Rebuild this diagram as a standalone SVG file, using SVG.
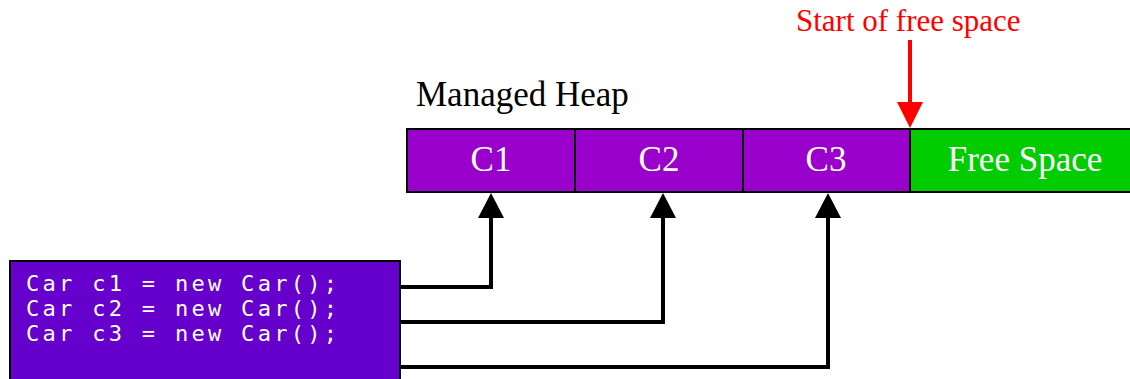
<svg xmlns="http://www.w3.org/2000/svg" width="1130" height="379" viewBox="0 0 1130 379">
  <style>
    .cell { stroke: #000; stroke-width: 2; }
    .obj { fill: #9900CC; }
    .free { fill: #00CC00; }
    .label { font-family: "Liberation Serif", "Times New Roman", serif; font-size: 35px; fill: #fff; text-anchor: middle; }
    .title { font-family: "Liberation Serif", "Times New Roman", serif; font-size: 35px; fill: #000; }
    .note { font-family: "Liberation Serif", "Times New Roman", serif; font-size: 31px; fill: #FF0000; }
    .code { font-family: "DejaVu Sans Mono", "Liberation Mono", monospace; font-size: 22px; fill: #fff; letter-spacing: 3.3px; }
    .wire { fill: none; stroke: #000; stroke-width: 4; }
  </style>

  <rect width="1130" height="379" fill="#fff"/>

  <text class="title" x="416" y="106">Managed Heap</text>

  <g id="c1">
    <rect class="cell obj" x="407" y="129" width="168" height="63"/>
    <text class="label" x="491" y="171">C1</text>
  </g>
  <g id="c2">
    <rect class="cell obj" x="575" y="129" width="168" height="63"/>
    <text class="label" x="659" y="171">C2</text>
  </g>
  <g id="c3">
    <rect class="cell obj" x="743" y="129" width="167" height="63"/>
    <text class="label" x="826" y="171">C3</text>
  </g>
  <g id="free-space">
    <rect class="cell free" x="910" y="129" width="230" height="63"/>
    <text class="label" x="1025" y="171">Free Space</text>
  </g>

  <g id="code">
    <rect x="10" y="261" width="390" height="130" fill="#6600CC" stroke="#000" stroke-width="2"/>
    <text class="code" x="26" y="291">Car c1 = new Car();</text>
    <text class="code" x="26" y="316">Car c2 = new Car();</text>
    <text class="code" x="26" y="341">Car c3 = new Car();</text>
  </g>

  <g id="start-marker">
    <text class="note" x="796" y="31">Start of free space</text>
    <line x1="910" y1="40" x2="910" y2="104" stroke="#FF0000" stroke-width="4"/>
    <path d="M897,102 L923,102 L910,128 Z" fill="#FF0000"/>
  </g>

  <g id="connectors">
    <path class="wire" d="M401,287 H491 V217"/>
    <path d="M478,218 L504,218 L491,193 Z" fill="#000"/>
    <path class="wire" d="M401,322 H663 V217"/>
    <path d="M650,218 L676,218 L663,193 Z" fill="#000"/>
    <path class="wire" d="M401,367 H828 V217"/>
    <path d="M815,218 L841,218 L828,193 Z" fill="#000"/>
  </g>
</svg>
